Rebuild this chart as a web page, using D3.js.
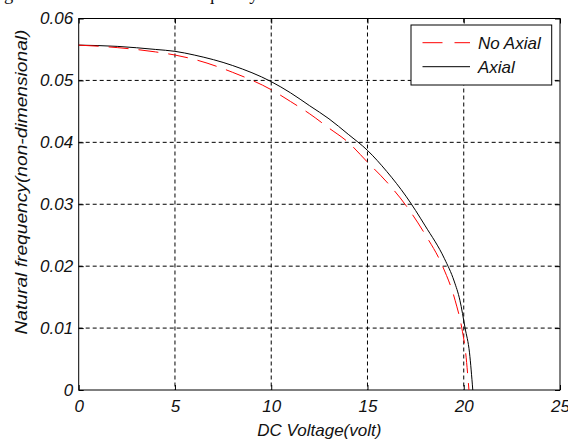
<!DOCTYPE html>
<html>
<head>
<meta charset="utf-8">
<script src="https://cdn.jsdelivr.net/npm/d3@7"></script>
<style>
  body { margin: 0; background: #fff; }
  svg { display: block; }
  text { font-family: "Liberation Sans", Arial, sans-serif; font-style: italic; fill: #111; }
</style>
</head>
<body>
<div id="container"></div>
<script>
// Chart values
var xTicks = [0, 5, 10, 15, 20, 25];
var yTicks = [0, 0.01, 0.02, 0.03, 0.04, 0.05, 0.06];
var yTickLabels = ["0", "0.01", "0.02", "0.03", "0.04", "0.05", "0.06"];

// Axial (solid black)
var axialV = [0, 2, 4, 5, 6, 8, 10, 11, 12, 13, 14, 15, 16, 17, 18, 19, 19.5, 19.8, 20.07, 20.3, 20.47];
var axialF = [0.0557, 0.0555, 0.0550, 0.0547, 0.0541, 0.0524, 0.0498, 0.0480, 0.0459, 0.0438, 0.0413, 0.0387, 0.0353, 0.0313, 0.0265, 0.0212, 0.0176, 0.0145, 0.0100, 0.0060, 0];

// No Axial (red dashed)
var noAxialV = [0, 2, 4, 5, 6, 8, 10, 11, 12, 13, 14, 15, 16, 17, 18, 18.9, 19.55, 19.9, 20.1, 20.27];
var noAxialF = [0.0557, 0.0553, 0.0546, 0.0541, 0.0534, 0.0513, 0.0485, 0.0466, 0.0446, 0.0423, 0.0400, 0.0368, 0.0336, 0.0298, 0.0251, 0.0200, 0.0145, 0.0100, 0.0060, 0];

var seriesNames = ["No Axial", "Axial"];

document.addEventListener('DOMContentLoaded', function(){
  //plot box edges (window.top is taken, so own names here)
  var width = 568, height = 442,
    pLeft = 78.7, pRight = 560, pTop = 18.5, pBottom = 390;

  var svg = d3.select("#container").append("svg")
    .attr("width", width).attr("height", height);

  var x = d3.scaleLinear().domain([0, 25]).range([pLeft, pRight]);
  var y = d3.scaleLinear().domain([0, 0.06]).range([pBottom, pTop]);

  // caption line cut off at the top of the picture, only descenders show
  svg.append("text")
    .attr("x", -11.4).attr("y", -0.5)
    .style("font-family", "'Liberation Serif', 'Times New Roman', serif")
    .style("font-style", "normal")
    .style("font-size", "18.5px")
    .text("Fig. 4 Variation of natural frequency");

  // dashed grid
  svg.append("g").selectAll("line")
    .data(xTicks.slice(1, -1)).enter().append("line")
    .attr("x1", d => x(d)).attr("x2", d => x(d))
    .attr("y1", pTop).attr("y2", pBottom)
    .attr("stroke", "#000").attr("stroke-width", 1)
    .attr("stroke-dasharray", "4,3");
  svg.append("g").selectAll("line")
    .data(yTicks.slice(1, -1)).enter().append("line")
    .attr("x1", pLeft).attr("x2", pRight)
    .attr("y1", d => y(d)).attr("y2", d => y(d))
    .attr("stroke", "#000").attr("stroke-width", 1)
    .attr("stroke-dasharray", "4,3");

  // axes, matlab style ticks pointing inwards
  var xAxis = svg.append("g").attr("transform", "translate(0," + pBottom + ")")
    .call(d3.axisBottom(x).tickValues(xTicks).tickSizeInner(-5).tickSizeOuter(0).tickPadding(10));
  var yAxis = svg.append("g").attr("transform", "translate(" + pLeft + ",0)")
    .call(d3.axisLeft(y).tickValues(yTicks).tickFormat((d, i) => yTickLabels[i]).tickSizeInner(-5).tickSizeOuter(0).tickPadding(10));
  svg.append("g").attr("transform", "translate(0," + pTop + ")")
    .call(d3.axisTop(x).tickValues(xTicks).tickSizeInner(-5).tickSizeOuter(0).tickFormat(""));
  svg.append("g").attr("transform", "translate(" + pRight + ",0)")
    .call(d3.axisRight(y).tickValues(yTicks).tickSizeInner(-5).tickSizeOuter(0).tickFormat(""));

  svg.selectAll(".domain").remove();
  svg.selectAll(".tick line").attr("stroke", "#000");
  xAxis.selectAll("text").style("font-size", "17px").attr("y", 10).attr("dy", "0.71em");
  yAxis.selectAll("text").style("font-size", "17px").attr("x", -5.5);

  // box
  svg.append("rect")
    .attr("x", pLeft).attr("y", pTop)
    .attr("width", pRight - pLeft).attr("height", pBottom - pTop)
    .attr("fill", "none").attr("stroke", "#000").attr("stroke-width", 1);

  // curves
  var line = d3.line()
    .x(d => x(d[0])).y(d => y(d[1]))
    .curve(d3.curveMonotoneX);

  svg.append("path")
    .datum(d3.zip(axialV, axialF))
    .attr("d", line)
    .attr("fill", "none").attr("stroke", "#000").attr("stroke-width", 1);

  svg.append("path")
    .datum(d3.zip(noAxialV, noAxialF))
    .attr("d", line)
    .attr("fill", "none").attr("stroke", "#ff0000").attr("stroke-width", 1)
    .attr("stroke-dasharray", "20,10");

  // axis labels
  svg.append("text")
    .attr("x", (pLeft + pRight) / 2).attr("y", 436)
    .attr("text-anchor", "middle")
    .style("font-size", "17px")
    .text("DC Voltage(volt)");

  svg.append("text")
    .attr("transform", "translate(27,182) rotate(-90)")
    .attr("text-anchor", "middle")
    .attr("textLength", 305).attr("lengthAdjust", "spacingAndGlyphs")
    .style("font-size", "17px")
    .text("Natural frequency(non-dimensional)");

  // legend
  var legend = svg.append("g");
  legend.append("rect")
    .attr("x", 411).attr("y", 25).attr("width", 140.7).attr("height", 60)
    .attr("fill", "#fff").attr("stroke", "#000").attr("stroke-width", 1);

  var legendY = [42.7, 66.7];
  legend.append("line")
    .attr("x1", 422.5).attr("x2", 470).attr("y1", legendY[0]).attr("y2", legendY[0])
    .attr("stroke", "#ff0000").attr("stroke-dasharray", "20,12");
  legend.append("line")
    .attr("x1", 422.5).attr("x2", 470).attr("y1", legendY[1]).attr("y2", legendY[1])
    .attr("stroke", "#000");
  legend.selectAll("text.lab")
    .data(seriesNames).enter().append("text")
    .attr("class", "lab")
    .attr("x", 478).attr("y", (d, i) => legendY[i] + 6)
    .style("font-size", "17px")
    .text(d => d);
});
</script>
</body>
</html>
